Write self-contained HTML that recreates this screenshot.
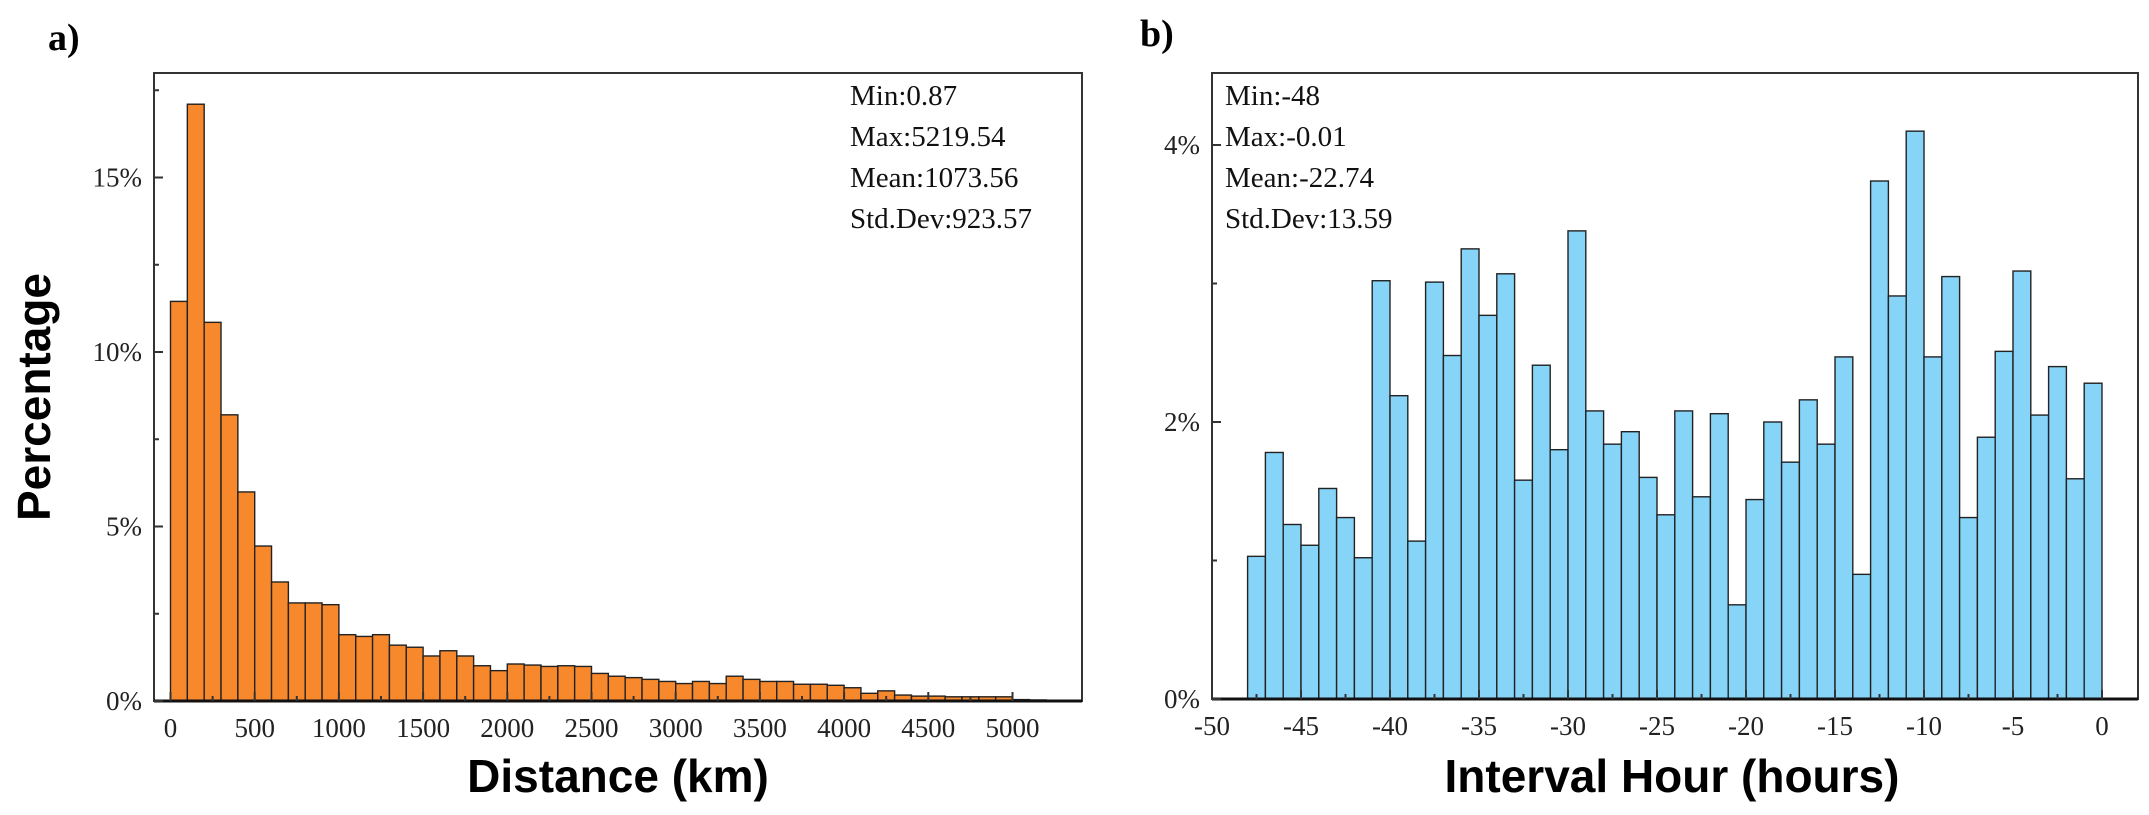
<!DOCTYPE html>
<html><head><meta charset="utf-8">
<style>
html,body{margin:0;padding:0;background:#fff;}
svg{display:block;}
.tk{font-family:"Liberation Serif",serif;font-size:27px;fill:#222;}
.st{font-family:"Liberation Serif",serif;font-size:29px;fill:#111;}
.ti{font-family:"Liberation Sans",sans-serif;font-size:46px;font-weight:bold;fill:#000;}
.pl{font-family:"Liberation Serif",serif;font-size:38px;font-weight:bold;fill:#000;}
</style></head>
<body>
<svg id="fig" width="2149" height="815" viewBox="0 0 2149 815" xmlns="http://www.w3.org/2000/svg">
  <text x="48" y="50" class="pl">a)</text>
  <text x="1140" y="46" class="pl">b)</text>
  <g id="chartA"></g>
  <g id="chartB"></g>
  <text transform="translate(50,397) rotate(-90)" text-anchor="middle" class="ti">Percentage</text>
  <text x="618" y="792" text-anchor="middle" class="ti">Distance (km)</text>
  <text x="1672" y="792" text-anchor="middle" class="ti">Interval Hour (hours)</text>
</svg>
<script>
// Chart A data
const distBinStart = [0,100,200,300,400,500,600,700,800,900,1000,1100,1200,1300,1400,1500,1600,1700,1800,1900,2000,2100,2200,2300,2400,2500,2600,2700,2800,2900,3000,3100,3200,3300,3400,3500,3600,3700,3800,3900,4000,4100,4200,4300,4400,4500,4600,4700,4800,4900,5000,5100];
const distValues = [11.45,17.1,10.85,8.2,5.99,4.44,3.41,2.81,2.81,2.76,1.90,1.85,1.90,1.60,1.54,1.29,1.44,1.29,1.01,0.87,1.06,1.03,0.99,1.01,0.99,0.79,0.71,0.67,0.62,0.56,0.50,0.56,0.50,0.71,0.62,0.56,0.56,0.48,0.48,0.45,0.38,0.22,0.29,0.17,0.14,0.14,0.12,0.12,0.12,0.12,0.04,0.03];
const distXTicks = [0,500,1000,1500,2000,2500,3000,3500,4000,4500,5000];
const distYTicks = [0,5,10,15];
const distStats = ["Min:0.87","Max:5219.54","Mean:1073.56","Std.Dev:923.57"];
// Chart B data
const hourBinStart = [-48,-47,-46,-45,-44,-43,-42,-41,-40,-39,-38,-37,-36,-35,-34,-33,-32,-31,-30,-29,-28,-27,-26,-25,-24,-23,-22,-21,-20,-19,-18,-17,-16,-15,-14,-13,-12,-11,-10,-9,-8,-7,-6,-5,-4,-3,-2,-1];
const hourValues = [1.03,1.78,1.26,1.11,1.52,1.31,1.02,3.02,2.19,1.14,3.01,2.48,3.25,2.77,3.07,1.58,2.41,1.80,3.38,2.08,1.84,1.93,1.60,1.33,2.08,1.46,2.06,0.68,1.44,2.00,1.71,2.16,1.84,2.47,0.90,3.74,2.91,4.10,2.47,3.05,1.31,1.89,2.51,3.09,2.05,2.40,1.59,2.28];
const hourXTicks = [-50,-45,-40,-35,-30,-25,-20,-15,-10,-5,0];
const hourYTicks = [0,2,4];
const hourStats = ["Min:-48","Max:-0.01","Mean:-22.74","Std.Dev:13.59"];

const NS="http://www.w3.org/2000/svg";
function mk(tag, attrs, parent){const e=document.createElementNS(NS,tag);for(const k in attrs)e.setAttribute(k,attrs[k]);parent.appendChild(e);return e;}

function drawChart(g, cfg){
  const {x0,x1,y0,y1,dmin,dmax,vmax,binW,starts,vals,xt,yt,yMinorStep,xMinorStep,fill,stats,statX,prefix}=cfg;
  const sx=v=>x0+(v-dmin)/(dmax-dmin)*(x1-x0);
  const sy=v=>y1-v/vmax*(y1-y0);
  starts.forEach((s,i)=>{
    const r=mk('rect',{x:sx(s),y:sy(vals[i]),width:sx(s+binW)-sx(s),height:y1-sy(vals[i]),fill:fill,stroke:'#222','stroke-width':1.4},g);
    
    
  });
  const fr=mk('rect',{x:x0,y:y0,width:x1-x0,height:y1-y0,fill:'none',stroke:'#333','stroke-width':2},g);
  
  
  mk('line',{x1:x0,y1:y1,x2:x1,y2:y1,stroke:'#111','stroke-width':3},g);
  for(let v=0; v<=vmax+1e-9; v+=yMinorStep){
    const major=yt.some(t=>Math.abs(t-v)<1e-9);
    mk('line',{x1:x0,y1:sy(v),x2:x0+(major?9:5),y2:sy(v),stroke:'#333','stroke-width':2},g);
  }
  yt.forEach(t=>{
    const tx=mk('text',{x:x0-12,y:sy(t)+9,'text-anchor':'end',class:'tk'},g);
    tx.textContent=t+'%';
    
    
  });
  for(let v=xt[0]; v<=xt[xt.length-1]+xMinorStep*0.99; v+=xMinorStep){
    if(sx(v)>x1) break;
    const major=xt.some(t=>Math.abs(t-v)<1e-9);
    mk('line',{x1:sx(v),y1:y1,x2:sx(v),y2:y1-(major?9:5),stroke:'#333','stroke-width':2},g);
  }
  xt.forEach(t=>{
    const tx=mk('text',{x:sx(t),y:y1+36,'text-anchor':'middle',class:'tk'},g);
    tx.textContent=t;
    
    
  });
  stats.forEach((s,i)=>{
    const tx=mk('text',{x:statX,y:105+i*41,class:'st'},g);
    tx.textContent=s;
    
    
  });
}

(function(){
  const pxPerKm=84.2/500;
  const dminA=-(170.5-154)/pxPerKm, dmaxA=dminA+(1082-154)/pxPerKm;
  drawChart(document.getElementById('chartA'),{x0:154,x1:1082,y0:73,y1:701,dmin:dminA,dmax:dmaxA,vmax:(701-73)/34.9,binW:100,
    starts:distBinStart,vals:distValues,xt:distXTicks,yt:distYTicks,yMinorStep:2.5,xMinorStep:250,fill:'#F7882B',stats:distStats,statX:850,prefix:'distance'});
  const pxPerHr=(2102-1212)/50;
  const dminB=-50, dmaxB=-50+(2138-1212)/pxPerHr;
  drawChart(document.getElementById('chartB'),{x0:1212,x1:2138,y0:73,y1:699,dmin:dminB,dmax:dmaxB,vmax:(699-73)/138.5,binW:1,
    starts:hourBinStart,vals:hourValues,xt:hourXTicks,yt:hourYTicks,yMinorStep:1,xMinorStep:2.5,fill:'#87D4F9',stats:hourStats,statX:1225,prefix:'interval'});
})();
</script>
</body></html>
